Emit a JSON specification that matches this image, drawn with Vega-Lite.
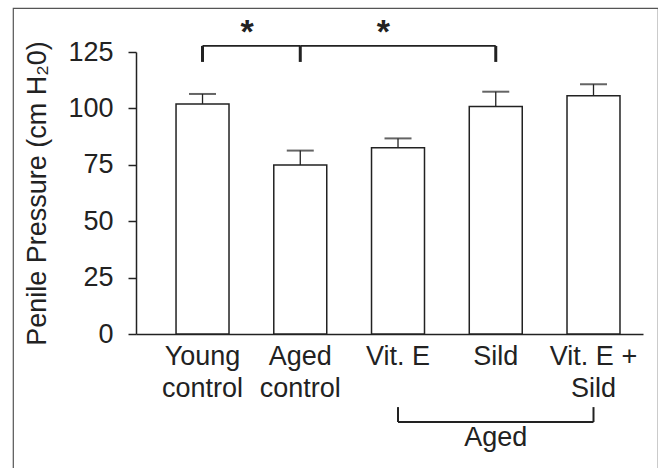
{
  "$schema": "https://vega.github.io/schema/vega-lite/v6.json",
  "autosize": {"type": "none"},
  "padding": {"left": 13, "top": 8, "right": 0, "bottom": 0},
  "width": 645,
  "height": 470,
  "background": "white",
  "config": {
    "font": "Liberation Sans",
    "view": {"stroke": "#555555", "strokeWidth": 1.2},
    "axis": {"grid": false, "domainColor": "#222222", "domainWidth": 1.5, "tickColor": "#222222", "tickWidth": 1.5, "labelColor": "#222222", "titleColor": "#222222", "labelFont": "Liberation Sans", "titleFont": "Liberation Sans"}
  },
  "datasets": {
    "bars": [
      {"group": "Young control", "mean": 102, "upper": 106.4},
      {"group": "Aged control", "mean": 74.9, "upper": 81.3},
      {"group": "Vit. E", "mean": 82.6, "upper": 86.7},
      {"group": "Sild", "mean": 100.8, "upper": 107.4},
      {"group": "Vit. E + Sild", "mean": 105.6, "upper": 110.7}
    ],
    "sigH": [
      {"a": "Young control", "b": "Aged control"},
      {"a": "Aged control", "b": "Sild"}
    ],
    "sigV": [
      {"g": "Young control"},
      {"g": "Aged control"},
      {"g": "Sild"}
    ],
    "agedV": [
      {"g": "Vit. E"},
      {"g": "Vit. E + Sild"}
    ]
  },
  "layer": [
    {
      "data": {"name": "bars"},
      "mark": {"type": "bar", "fill": "white", "stroke": "#222222", "strokeWidth": 1.5},
      "encoding": {
        "x": {
          "field": "group", "type": "nominal", "sort": null,
          "scale": {"range": [123, 630], "paddingInner": 0.458, "paddingOuter": 0.3225, "align": 0.635},
          "axis": {
            "title": null, "orient": "bottom", "offset": -144, "ticks": false, "labelAngle": 0,
            "labelFontSize": 27, "labelLineHeight": 32, "labelPadding": 9,
            "labelExpr": "indexof(datum.label, 'control') > 0 ? split(datum.label, ' ') : datum.label == 'Vit. E + Sild' ? ['Vit. E +', 'Sild'] : datum.label"
          }
        },
        "y": {
          "field": "mean", "type": "quantitative",
          "scale": {"domain": [0, 125], "range": [326, 44], "nice": false},
          "axis": {
            "title": "Penile Pressure (cm H₂0)", "offset": -123, "values": [0, 25, 50, 75, 100, 125],
            "tickSize": 8, "labelFontSize": 27, "labelPadding": 15,
            "titleFontSize": 27, "titleFontWeight": "normal", "titlePadding": 16
          }
        }
      }
    },
    {
      "data": {"name": "bars"},
      "mark": {"type": "rule", "stroke": "#222222", "strokeWidth": 1.3},
      "encoding": {
        "x": {"field": "group", "type": "nominal", "sort": null, "bandPosition": 0.5},
        "y": {"field": "mean", "type": "quantitative"},
        "y2": {"field": "upper"}
      }
    },
    {
      "data": {"name": "bars"},
      "mark": {"type": "tick", "color": "#222222", "size": 27, "thickness": 2, "orient": "horizontal"},
      "encoding": {
        "x": {"field": "group", "type": "nominal", "sort": null},
        "y": {"field": "upper", "type": "quantitative"}
      }
    },
    {
      "data": {"name": "sigH"},
      "mark": {"type": "rule", "stroke": "#222222", "strokeWidth": 1.6},
      "encoding": {
        "x": {"field": "a", "type": "nominal", "sort": null, "bandPosition": 0.5},
        "x2": {"field": "b", "bandPosition": 0.5},
        "y": {"datum": 127.7}
      }
    },
    {
      "data": {"name": "sigV"},
      "mark": {"type": "rule", "stroke": "#222222", "strokeWidth": 3},
      "encoding": {
        "x": {"field": "g", "type": "nominal", "sort": null, "bandPosition": 0.5},
        "y": {"datum": 120.6},
        "y2": {"datum": 127.7}
      }
    },
    {
      "data": {"values": [{"g": "Young control", "s": "*"}]},
      "mark": {"type": "text", "fontSize": 34, "fontWeight": "bold", "baseline": "alphabetic", "align": "center", "dx": 44.5, "color": "#222222"},
      "encoding": {
        "x": {"field": "g", "type": "nominal", "sort": null},
        "y": {"datum": 129},
        "text": {"field": "s"}
      }
    },
    {
      "data": {"values": [{"g": "Aged control", "s": "*"}]},
      "mark": {"type": "text", "fontSize": 34, "fontWeight": "bold", "baseline": "alphabetic", "align": "center", "dx": 83, "color": "#222222"},
      "encoding": {
        "x": {"field": "g", "type": "nominal", "sort": null},
        "y": {"datum": 129},
        "text": {"field": "s"}
      }
    },
    {
      "data": {"values": [{"a": "Vit. E", "b": "Vit. E + Sild"}]},
      "mark": {"type": "rule", "stroke": "#222222", "strokeWidth": 2},
      "encoding": {
        "x": {"field": "a", "type": "nominal", "sort": null, "bandPosition": 0.5},
        "x2": {"field": "b", "bandPosition": 0.5},
        "y": {"datum": -39}
      }
    },
    {
      "data": {"name": "agedV"},
      "mark": {"type": "rule", "stroke": "#222222", "strokeWidth": 2},
      "encoding": {
        "x": {"field": "g", "type": "nominal", "sort": null, "bandPosition": 0.5},
        "y": {"datum": -39},
        "y2": {"datum": -32.4}
      }
    },
    {
      "data": {"values": [{"g": "Sild", "t": "Aged"}]},
      "mark": {"type": "text", "fontSize": 27, "baseline": "alphabetic", "align": "center", "color": "#222222"},
      "encoding": {
        "x": {"field": "g", "type": "nominal", "sort": null},
        "y": {"datum": -49.6},
        "text": {"field": "t"}
      }
    }
  ]
}
